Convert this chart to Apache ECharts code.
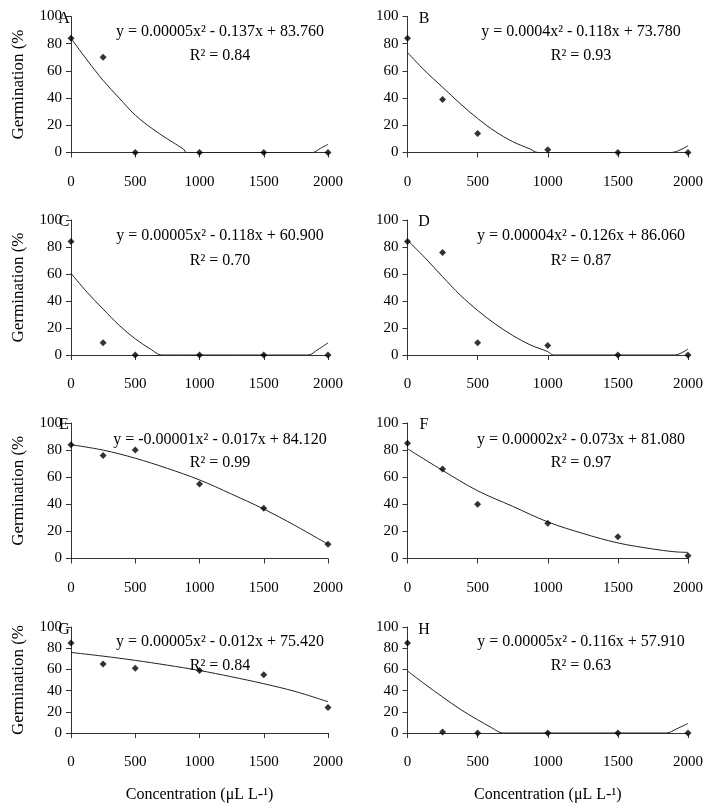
<!DOCTYPE html>
<html>
<head>
<meta charset="utf-8">
<script src="https://cdn.jsdelivr.net/npm/echarts@6/dist/echarts.min.js"></script>
<style>html,body{margin:0;padding:0;background:#fff}#c{width:713px;height:811px}</style>
</head>
<body>
<div id="c"></div>
<script>
// ---- data ----
const concentrations = [0, 250, 500, 1000, 1500, 2000];
const xTicks = [0, 500, 1000, 1500, 2000];
const yTicks = [0, 20, 40, 60, 80, 100];
const panelLetters = ['A', 'B', 'C', 'D', 'E', 'F', 'G', 'H'];

const germA = [84, 70, 0, 0, 0, 0];
const germB = [84, 39, 14, 2, 0, 0];
const germC = [84, 9, 0, 0, 0, 0];
const germD = [84, 76, 9, 7, 0, 0];
const germE = [84, 76, 80, 55, 37, 10.5];
const germF = [85, 66, 40, 26, 16, 2];
const germG = [85, 65, 61, 59, 55, 24];
const germH = [85, 1, 0, 0, 0, 0];

// fitted trend lines as drawn (clipped at 0 in the picture)
const trendA_x = [0, 125, 250, 375, 500, 625, 750, 875, 900, 1880, 1940, 2000];
const trendA_y = [84, 68, 53, 40, 27.5, 18, 10, 2.5, 0, 0, 3, 6];
const trendB_x = [0, 125, 250, 375, 500, 625, 750, 875, 930, 1880, 2000];
const trendB_y = [73.5, 60, 48, 36, 25, 15.5, 8, 2.5, 0, 0, 5];
const trendC_x = [0, 125, 250, 375, 500, 625, 705, 1845, 1920, 2000];
const trendC_y = [60.5, 46.5, 34, 22, 12, 4, 0, 0, 4, 9];
const trendD_x = [0, 125, 250, 375, 500, 625, 750, 875, 1000, 1040, 1905, 2000];
const trendD_y = [85, 72, 58, 44.5, 33, 23, 14.5, 7.5, 2.5, 0, 0, 4.5];
const trendE_x = [0, 250, 500, 750, 1000, 1250, 1500, 1750, 2000];
const trendE_y = [84, 80, 74, 66.5, 58, 47.5, 36.5, 24, 10.5];
const trendF_x = [0, 250, 500, 750, 1000, 1250, 1500, 1750, 1900, 2000];
const trendF_y = [81, 65, 50, 38.5, 27, 18.5, 11.5, 7, 5, 4.5];
const trendG_x = [0, 250, 500, 750, 1000, 1250, 1500, 1750, 2000];
const trendG_y = [76, 72.5, 68.5, 64, 59, 53, 46.5, 39, 29.5];
const trendH_x = [0, 125, 250, 375, 500, 600, 680, 1845, 1920, 2000];
const trendH_y = [58.5, 46, 34, 22.5, 12.5, 5, 0, 0, 4, 9];

const equations = [
  'y = 0.00005x² - 0.137x + 83.760',
  'y = 0.0004x² - 0.118x + 73.780',
  'y = 0.00005x² - 0.118x + 60.900',
  'y = 0.00004x² - 0.126x + 86.060',
  'y = -0.00001x² - 0.017x + 84.120',
  'y = 0.00002x² - 0.073x + 81.080',
  'y = 0.00005x² - 0.012x + 75.420',
  'y = 0.00005x² - 0.116x + 57.910'
];
const rSquared = ['R² = 0.84', 'R² = 0.93', 'R² = 0.70', 'R² = 0.87', 'R² = 0.99', 'R² = 0.97', 'R² = 0.84', 'R² = 0.63'];
const yTitle = 'Germination (%';
const xTitle = 'Concentration (μL L-¹)';

// ---- build chart ----
const germs = [germA, germB, germC, germD, germE, germF, germG, germH];
const trendsX = [trendA_x, trendB_x, trendC_x, trendD_x, trendE_x, trendF_x, trendG_x, trendH_x];
const trendsY = [trendA_y, trendB_y, trendC_y, trendD_y, trendE_y, trendF_y, trendG_y, trendH_y];

const FONT = "'Liberation Serif', 'Times New Roman', serif";
const colLeft = [71, 407.5];
const colWidth = [257, 280.5];
const rowTop = [16.5, 220, 423, 627];
const rowHeight = [136, 135, 135.5, 106];
const eqX = [220, 581];
const eqY = [32, 236, 440, 642];
const r2Y = [55.5, 260.5, 462.5, 665.5];
const letterX = [64, 424];
const letterY = [18.5, 222, 425, 629.5];

const grid = [], xAxis = [], yAxis = [], series = [], graphic = [];
const axisColor = '#333';

for (let i = 0; i < 8; i++) {
  const col = i % 2, row = Math.floor(i / 2);
  grid.push({left: colLeft[col], top: rowTop[row], width: colWidth[col], height: rowHeight[row], containLabel: false});
  xAxis.push({
    type: 'value', gridIndex: i, min: xTicks[0], max: xTicks[xTicks.length - 1],
    interval: xTicks[1] - xTicks[0],
    axisLine: {show: true, lineStyle: {color: axisColor, width: 1}},
    axisTick: {show: true, length: 5, lineStyle: {color: axisColor}},
    axisLabel: {color: '#000', fontFamily: FONT, fontSize: 15, margin: 22, showMinLabel: true, showMaxLabel: true,
      formatter: v => String(v)},
    splitLine: {show: false},
    name: row === 3 ? xTitle : '',
    nameLocation: 'middle', nameGap: 54,
    nameTextStyle: {color: '#000', fontFamily: FONT, fontSize: 16}
  });
  yAxis.push({
    type: 'value', gridIndex: i, min: yTicks[0], max: yTicks[yTicks.length - 1],
    interval: yTicks[1] - yTicks[0],
    axisLine: {show: true, lineStyle: {color: axisColor, width: 1}},
    axisTick: {show: true, length: 5, lineStyle: {color: axisColor}},
    axisLabel: {color: '#000', fontFamily: FONT, fontSize: 15, margin: 9, formatter: v => String(v)},
    splitLine: {show: false},
    name: col === 0 ? yTitle : '',
    nameLocation: 'middle', nameRotate: 90, nameGap: 44,
    nameTextStyle: {color: '#000', fontFamily: FONT, fontSize: 17}
  });
  series.push({
    type: 'line', xAxisIndex: i, yAxisIndex: i, smooth: 0.35, symbol: 'none', clip: true,
    lineStyle: {color: '#222', width: 1}, z: 2,
    data: trendsX[i].map((x, k) => [x, trendsY[i][k]])
  });
  series.push({
    type: 'scatter', xAxisIndex: i, yAxisIndex: i, symbol: 'diamond', symbolSize: 7,
    itemStyle: {color: '#000'}, z: 3,
    data: concentrations.map((x, k) => [x, germs[i][k]])
  });
  graphic.push({type: 'text', x: eqX[col], y: eqY[row], z: 1,
    style: {text: equations[i], font: '16px ' + FONT, fill: '#000', textAlign: 'center', textVerticalAlign: 'middle'}});
  graphic.push({type: 'text', x: eqX[col], y: r2Y[row], z: 1,
    style: {text: rSquared[i], font: '16px ' + FONT, fill: '#000', textAlign: 'center', textVerticalAlign: 'middle'}});
  graphic.push({type: 'text', x: letterX[col], y: letterY[row], z: 5,
    style: {text: panelLetters[i], font: '16px ' + FONT, fill: '#000', textAlign: 'center', textVerticalAlign: 'middle'}});
}

const chart = echarts.init(document.getElementById('c'), null, {renderer: 'canvas'});
chart.setOption({animation: false, backgroundColor: '#fff', grid, xAxis, yAxis, series, graphic});
</script>
</body>
</html>
